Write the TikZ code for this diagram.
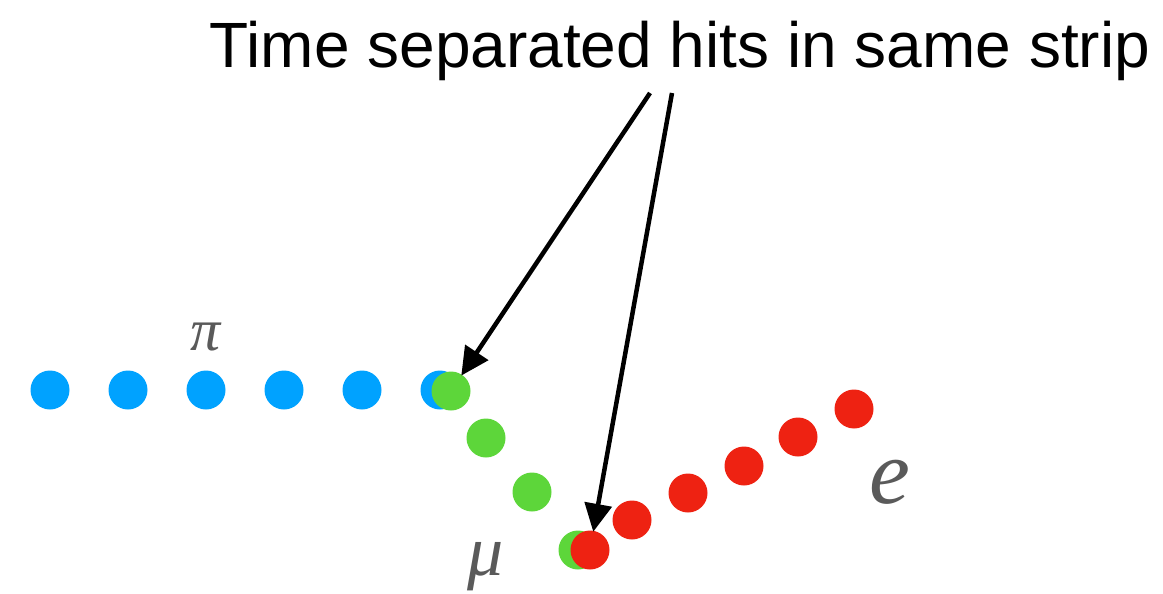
\documentclass[tikz,border=0pt]{standalone}
\usepackage{fontspec}
\setmainfont{Liberation Sans}
\newfontfamily\greekfont{Liberation Serif}
\usetikzlibrary{arrows.meta}
\definecolor{pionblue}{HTML}{00A2FF}
\definecolor{muongreen}{HTML}{5DD63A}
\definecolor{elecred}{HTML}{EE2212}
\definecolor{labelgray}{HTML}{5A5A5A}
\tikzset{
  hit/.style={circle, minimum size=39pt, inner sep=0pt, outer sep=0pt},
  pionhit/.style={hit, fill=pionblue},
  muonhit/.style={hit, fill=muongreen},
  elechit/.style={hit, fill=elecred},
  particle/.style={text=labelgray, font=\greekfont\itshape, inner sep=0pt},
  pointer/.style={line width=4.5pt, -{Triangle[length=28pt,width=27pt]}, shorten >=-1pt},
}
\begin{document}
\begin{tikzpicture}[x=1pt,y=-1pt]
\useasboundingbox (0,0) rectangle (1163,594);
% pion track
\node[pionhit] (p1) at (50,390) {};
\node[pionhit] (p2) at (128,390) {};
\node[pionhit] (p3) at (206,390) {};
\node[pionhit] (p4) at (284,390) {};
\node[pionhit] (p5) at (362,390) {};
\node[pionhit] (p6) at (440,390) {};
% muon track
\node[muonhit] (m1) at (451,391) {};
\node[muonhit] (m2) at (486,438) {};
\node[muonhit] (m3) at (532,492) {};
\node[muonhit] (m4) at (578,550) {};
% electron track
\node[elechit] (e1) at (590,550) {};
\node[elechit] (e2) at (632,520) {};
\node[elechit] (e3) at (688,493) {};
\node[elechit] (e4) at (744,466) {};
\node[elechit] (e5) at (798,437) {};
\node[elechit] (e6) at (854,409) {};
% labels
\node[particle, font=\greekfont\itshape\fontsize{60}{60}\selectfont] (lpi) at (206,337) {π};
\node[particle, font=\greekfont\itshape\fontsize{72}{72}\selectfont] (lmu) at (486,567) {μ};
\node[particle, font=\greekfont\itshape\fontsize{92}{92}\selectfont] (le) at (890,482) {e};
% title
\node[font=\fontsize{64}{64}\selectfont, inner sep=0pt, anchor=base] (title) at (680,68) {Time separated hits in same strip};
\coordinate (s1) at (650,93);
\coordinate (s2) at (672,93);
\draw[pointer] (s1) -- (m1);
\draw[pointer] (s2) -- (e1);
\end{tikzpicture}
\end{document}
